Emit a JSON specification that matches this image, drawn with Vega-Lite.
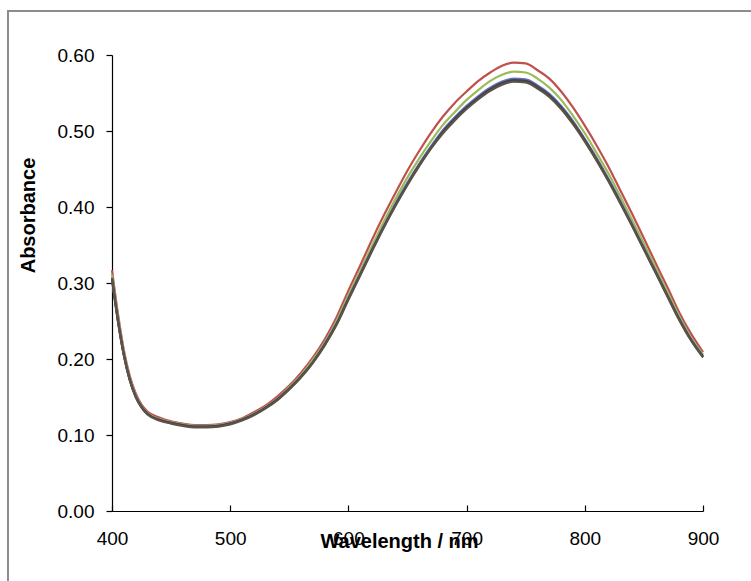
{
  "$schema": "https://vega.github.io/schema/vega-lite/v6.json",
  "autosize": "none",
  "width": 591,
  "height": 456,
  "padding": {"left": 112, "top": 55, "right": 48, "bottom": 70},
  "background": "white",
  "config": {
    "view": {"stroke": null},
    "font": "Liberation Sans",
    "axis": {"grid": false, "domainColor": "#000000", "tickColor": "#000000", "labelColor": "#000000", "titleColor": "#000000", "labelFont": "Liberation Sans", "titleFont": "Liberation Sans", "labelFontSize": 19, "titleFontSize": 20, "titleFontWeight": "bold", "labelFlush": false, "labelOverlap": false}
  },
  "datasets": {
    "frame": [{"x1": 312, "x2": 945, "y1": 0.658, "y2": -0.1}],
    "spectra": [
      {"w":400,"Red":0.317,"Green":0.311,"Blue":0.307,"Purple":0.306,"D1":0.306,"D2":0.305},
      {"w":405,"Red":0.260,"Green":0.255,"Blue":0.252,"Purple":0.251,"D1":0.251,"D2":0.250},
      {"w":410,"Red":0.212,"Green":0.209,"Blue":0.206,"Purple":0.206,"D1":0.206,"D2":0.205},
      {"w":415,"Red":0.178,"Green":0.175,"Blue":0.173,"Purple":0.173,"D1":0.173,"D2":0.172},
      {"w":420,"Red":0.155,"Green":0.153,"Blue":0.151,"Purple":0.151,"D1":0.151,"D2":0.150},
      {"w":425,"Red":0.140,"Green":0.138,"Blue":0.137,"Purple":0.137,"D1":0.137,"D2":0.136},
      {"w":430,"Red":0.131,"Green":0.129,"Blue":0.128,"Purple":0.128,"D1":0.128,"D2":0.127},
      {"w":440,"Red":0.123,"Green":0.121,"Blue":0.120,"Purple":0.120,"D1":0.120,"D2":0.119},
      {"w":450,"Red":0.118,"Green":0.117,"Blue":0.116,"Purple":0.116,"D1":0.116,"D2":0.115},
      {"w":460,"Red":0.115,"Green":0.114,"Blue":0.113,"Purple":0.113,"D1":0.113,"D2":0.112},
      {"w":470,"Red":0.113,"Green":0.112,"Blue":0.111,"Purple":0.111,"D1":0.111,"D2":0.110},
      {"w":480,"Red":0.113,"Green":0.112,"Blue":0.111,"Purple":0.111,"D1":0.111,"D2":0.110},
      {"w":490,"Red":0.114,"Green":0.113,"Blue":0.112,"Purple":0.112,"D1":0.112,"D2":0.111},
      {"w":500,"Red":0.117,"Green":0.116,"Blue":0.115,"Purple":0.115,"D1":0.115,"D2":0.114},
      {"w":510,"Red":0.122,"Green":0.121,"Blue":0.120,"Purple":0.120,"D1":0.120,"D2":0.119},
      {"w":520,"Red":0.130,"Green":0.128,"Blue":0.127,"Purple":0.127,"D1":0.127,"D2":0.126},
      {"w":530,"Red":0.139,"Green":0.137,"Blue":0.136,"Purple":0.136,"D1":0.136,"D2":0.135},
      {"w":540,"Red":0.151,"Green":0.148,"Blue":0.147,"Purple":0.147,"D1":0.147,"D2":0.146},
      {"w":550,"Red":0.165,"Green":0.163,"Blue":0.161,"Purple":0.161,"D1":0.161,"D2":0.160},
      {"w":560,"Red":0.182,"Green":0.179,"Blue":0.177,"Purple":0.177,"D1":0.177,"D2":0.176},
      {"w":570,"Red":0.202,"Green":0.199,"Blue":0.196,"Purple":0.196,"D1":0.196,"D2":0.195},
      {"w":580,"Red":0.226,"Green":0.222,"Blue":0.220,"Purple":0.219,"D1":0.219,"D2":0.218},
      {"w":590,"Red":0.255,"Green":0.250,"Blue":0.247,"Purple":0.246,"D1":0.246,"D2":0.245},
      {"w":600,"Red":0.290,"Green":0.284,"Blue":0.280,"Purple":0.280,"D1":0.279,"D2":0.278},
      {"w":610,"Red":0.323,"Green":0.316,"Blue":0.312,"Purple":0.312,"D1":0.311,"D2":0.310},
      {"w":620,"Red":0.357,"Green":0.349,"Blue":0.344,"Purple":0.344,"D1":0.343,"D2":0.342},
      {"w":630,"Red":0.389,"Green":0.381,"Blue":0.375,"Purple":0.375,"D1":0.374,"D2":0.373},
      {"w":640,"Red":0.419,"Green":0.411,"Blue":0.405,"Purple":0.404,"D1":0.403,"D2":0.402},
      {"w":650,"Red":0.448,"Green":0.439,"Blue":0.432,"Purple":0.431,"D1":0.430,"D2":0.429},
      {"w":660,"Red":0.474,"Green":0.464,"Blue":0.457,"Purple":0.456,"D1":0.455,"D2":0.454},
      {"w":670,"Red":0.498,"Green":0.487,"Blue":0.480,"Purple":0.479,"D1":0.478,"D2":0.477},
      {"w":680,"Red":0.519,"Green":0.508,"Blue":0.501,"Purple":0.500,"D1":0.499,"D2":0.497},
      {"w":690,"Red":0.537,"Green":0.525,"Blue":0.518,"Purple":0.517,"D1":0.516,"D2":0.514},
      {"w":700,"Red":0.552,"Green":0.541,"Blue":0.533,"Purple":0.532,"D1":0.531,"D2":0.529},
      {"w":710,"Red":0.566,"Green":0.554,"Blue":0.546,"Purple":0.545,"D1":0.544,"D2":0.542},
      {"w":720,"Red":0.577,"Green":0.566,"Blue":0.557,"Purple":0.556,"D1":0.555,"D2":0.553},
      {"w":730,"Red":0.586,"Green":0.574,"Blue":0.565,"Purple":0.564,"D1":0.563,"D2":0.561},
      {"w":740,"Red":0.590,"Green":0.578,"Blue":0.569,"Purple":0.568,"D1":0.567,"D2":0.565},
      {"w":750,"Red":0.589,"Green":0.577,"Blue":0.568,"Purple":0.567,"D1":0.566,"D2":0.564},
      {"w":760,"Red":0.580,"Green":0.569,"Blue":0.560,"Purple":0.559,"D1":0.558,"D2":0.556},
      {"w":770,"Red":0.569,"Green":0.557,"Blue":0.549,"Purple":0.548,"D1":0.547,"D2":0.545},
      {"w":780,"Red":0.552,"Green":0.541,"Blue":0.533,"Purple":0.532,"D1":0.531,"D2":0.529},
      {"w":790,"Red":0.531,"Green":0.520,"Blue":0.513,"Purple":0.512,"D1":0.511,"D2":0.509},
      {"w":800,"Red":0.507,"Green":0.497,"Blue":0.489,"Purple":0.489,"D1":0.488,"D2":0.486},
      {"w":810,"Red":0.481,"Green":0.471,"Blue":0.464,"Purple":0.464,"D1":0.462,"D2":0.461},
      {"w":820,"Red":0.453,"Green":0.444,"Blue":0.437,"Purple":0.436,"D1":0.435,"D2":0.434},
      {"w":830,"Red":0.422,"Green":0.414,"Blue":0.408,"Purple":0.407,"D1":0.406,"D2":0.405},
      {"w":840,"Red":0.391,"Green":0.383,"Blue":0.377,"Purple":0.377,"D1":0.376,"D2":0.375},
      {"w":850,"Red":0.359,"Green":0.352,"Blue":0.346,"Purple":0.346,"D1":0.345,"D2":0.344},
      {"w":860,"Red":0.326,"Green":0.320,"Blue":0.315,"Purple":0.315,"D1":0.314,"D2":0.313},
      {"w":870,"Red":0.294,"Green":0.288,"Blue":0.284,"Purple":0.283,"D1":0.283,"D2":0.282},
      {"w":880,"Red":0.261,"Green":0.256,"Blue":0.253,"Purple":0.252,"D1":0.252,"D2":0.251},
      {"w":890,"Red":0.233,"Green":0.228,"Blue":0.226,"Purple":0.225,"D1":0.225,"D2":0.224},
      {"w":900,"Red":0.209,"Green":0.206,"Blue":0.204,"Purple":0.203,"D1":0.203,"D2":0.202}
    ]
  },
  "layer": [
    {
      "data": {"name": "frame"},
      "mark": {"type": "rect", "fill": null, "stroke": "#8c8c8c", "strokeWidth": 2, "clip": false},
      "encoding": {
        "x": {"field": "x1", "type": "quantitative", "scale": {"domain": [400, 900]}},
        "x2": {"field": "x2"},
        "y": {"field": "y1", "type": "quantitative", "scale": {"domain": [0, 0.6]}},
        "y2": {"field": "y2"}
      }
    },
    {
      "data": {"name": "spectra"},
      "transform": [{"fold": ["Red", "Green", "Blue", "Purple", "D1", "D2"], "as": ["series", "A"]}],
      "mark": {"type": "line", "strokeWidth": 2.2, "interpolate": "monotone"},
      "encoding": {
        "x": {"field": "w", "type": "quantitative",
              "scale": {"domain": [400, 900], "nice": false, "zero": false},
              "axis": {"title": "Wavelength / nm", "values": [400, 500, 600, 700, 800, 900], "tickSize": -6, "labelPadding": 24, "titleY": 30, "titleX": 287, "titleBaseline": "middle", "titleAlign": "center", "domainWidth": 1.2, "tickWidth": 1.2}},
        "y": {"field": "A", "type": "quantitative",
              "scale": {"domain": [0, 0.6], "nice": false},
              "axis": {"title": "Absorbance", "values": [0, 0.1, 0.2, 0.3, 0.4, 0.5, 0.6], "format": ".2f", "tickSize": 6, "labelPadding": 12, "titleX": -84, "titleY": 160, "titleBaseline": "middle", "domainWidth": 1.2, "tickWidth": 1.2}},
        "color": {"field": "series", "type": "nominal", "legend": null,
                  "sort": ["Red", "Green", "Blue", "Purple", "D1", "D2"],
                  "scale": {"domain": ["Red", "Green", "Blue", "Purple", "D1", "D2"],
                            "range": ["#C0504D", "#9BBB59", "#4F81BD", "#8064A2", "#3B3F5E", "#5C5442"]}}
      }
    }
  ]
}
